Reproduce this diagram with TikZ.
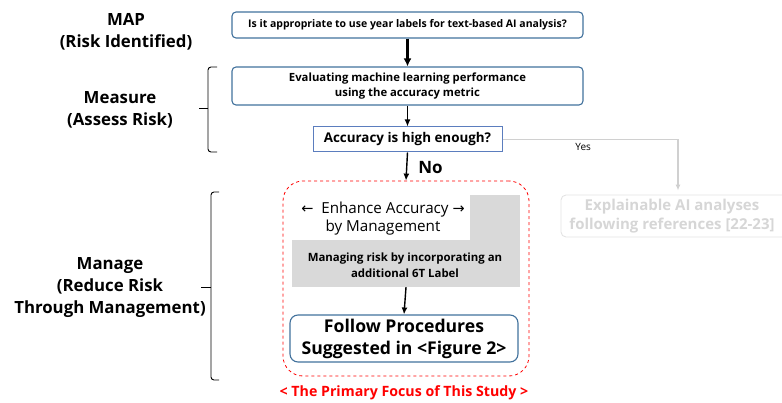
\documentclass[tikz,border=0pt]{standalone}
\usepackage{fontspec}
\setmainfont{Open Sans}
\newfontfamily\symfont{DejaVu Sans}
\usetikzlibrary{arrows.meta}
\definecolor{boxblue}{HTML}{41719C}
\definecolor{qblue}{HTML}{5B7DBE}
\definecolor{mgray}{HTML}{D9D9D9}
\definecolor{fgray}{HTML}{D0D0D0}
\definecolor{ftext}{HTML}{D6D6D6}
\tikzset{
  flowbox/.style={draw=boxblue, line width=1.1pt, rounded corners=4pt, inner sep=0pt, align=center, font=\bfseries},
  stage/.style={font=\bfseries\fontsize{16.8}{22}\selectfont, align=center, inner sep=0pt},
  arr/.style={-{Latex[length=7pt,width=6pt]}, line width=1.4pt},
  bigarr/.style={-{Latex[length=8pt,width=8pt]}, line width=2.6pt},
  brace/.style={line width=0.9pt, rounded corners=3pt},
}
\begin{document}
\begin{tikzpicture}[x=1pt,y=-1pt]
\useasboundingbox (0,0) rectangle (782,403);
% stage labels
\node[stage] (map) at (126,32) {MAP\\(Risk Identified)};
\node[stage] (measure) at (120,110) {Measure\\(Assess Risk)};
\node[stage] (manage) at (110,288) {Manage\\(Reduce Risk\\Through Management)};
% braces
\draw[brace] (217,67) -- (208,67) -- (208,152) -- (217,152);
\draw[line width=0.9pt] (208,108) -- (199,108);
\draw[brace] (219,192) -- (211,192) -- (211,380) -- (219,380);
\draw[line width=0.9pt] (211,287) -- (201,287);
% main flow
\node[flowbox, minimum width=351pt, minimum height=26pt, font=\bfseries\fontsize{10.5}{13}\selectfont] (q1) at (407.5,25) {Is it appropriate to use year labels for text-based AI analysis?};
\node[flowbox, minimum width=351pt, minimum height=38pt, font=\bfseries\fontsize{11.3}{15}\selectfont] (eval) at (407.5,86) {Evaluating machine learning performance\\using the accuracy metric};
\node[draw=qblue, line width=1pt, inner sep=0pt, minimum width=189pt, minimum height=25pt, font=\bfseries\fontsize{13.4}{16}\selectfont] (acc) at (407.5,139.5) {Accuracy is high enough?};
% focus region
\node[draw=red, dashed, line width=0.8pt, rounded corners=20pt, minimum width=246pt, minimum height=195pt, inner sep=0pt] (focus) at (406,278.5) {};
\node[fill=mgray, minimum width=228pt, minimum height=92pt, inner sep=0pt] (mgmt) at (406,241) {};
\node[fill=white, minimum width=178pt, minimum height=45pt, inner sep=0pt] (enh) at (381,217.5) {};
\node[font=\fontsize{15.2}{18}\selectfont, align=center, inner sep=0pt] (enhtxt) at (383,219) {{\symfont\fontsize{14.5}{18}\selectfont←}\ \ Enhance Accuracy {\symfont\fontsize{14.5}{18}\selectfont→}\\by Management};
\node[font=\bfseries\fontsize{11.4}{16.5}\selectfont, align=center, inner sep=0pt] (risk) at (405,265) {Managing risk by incorporating an\\additional 6T Label};
\node[flowbox, rounded corners=8pt, minimum width=228pt, minimum height=47pt, font=\bfseries\fontsize{17.6}{22}\selectfont] (follow) at (404,338.5) {Follow Procedures\\Suggested in <Figure 2>};
\node[text=red, font=\bfseries\fontsize{14.2}{16}\selectfont, inner sep=0pt] (focuslbl) at (404,393) {< The Primary Focus of This Study >};
% yes branch
\node[draw=fgray!60, line width=0.9pt, rounded corners=5pt, minimum width=234pt, minimum height=42pt, inner sep=0pt, text=ftext, align=center, font=\bfseries\fontsize{15}{19}\selectfont] (expl) at (678,216) {};
\node[text=ftext, align=center, inner sep=0pt, font=\bfseries\fontsize{15}{19}\selectfont] (expltxt) at (672,216) {Explainable AI analyses\\following references [22-23]};
% connectors
\draw[bigarr] (q1.south) -- (eval.north);
\draw[arr] (eval.south) -- (acc.north);
\draw[arr] (acc.south) -- (focus.north) node[pos=0.55, right=11pt, font=\bfseries\fontsize{17}{20}\selectfont, inner sep=0pt] (no) {No};
\draw[arr] (mgmt.south) -- (follow.north);
\draw[fgray, line width=1.4pt, -{Latex[length=6pt,width=5pt]}, shorten >=4pt] (acc.east) -| (expl.north)
  node[pos=0.23, below=3pt, text=black, font=\fontsize{10}{12}\selectfont, inner sep=0pt] (yes) {Yes};
\end{tikzpicture}
\end{document}
